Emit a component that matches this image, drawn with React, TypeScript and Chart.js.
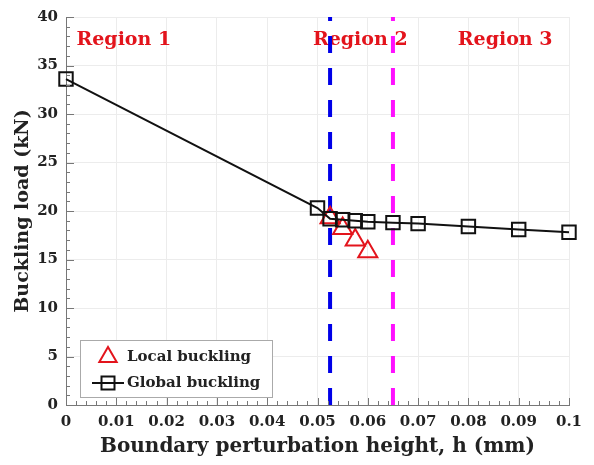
import React, { useEffect, useRef } from 'react';
import { Chart, registerables } from 'chart.js';

Chart.register(...registerables);

// ---- data ----
const globalH = [0, 0.05, 0.0525, 0.055, 0.0575, 0.06, 0.065, 0.07, 0.08, 0.09, 0.1];
const globalLoad = [33.6, 20.3, 19.2, 19.1, 19.0, 18.9, 18.8, 18.7, 18.4, 18.1, 17.8];
const localH = [0.0525, 0.055, 0.0575, 0.06];
const localLoad = [19.3, 18.2, 17.0, 15.8];
const boundaryH = [0.0525, 0.065];
const boundaryColors = ['#0000e8', '#ff10ff'];
const regionNames = ['Region 1', 'Region 2', 'Region 3'];
const regionCenters = [0.0115, 0.0585, 0.0873];
const regionLoad = 37.6;
const xTickValues = [0, 0.01, 0.02, 0.03, 0.04, 0.05, 0.06, 0.07, 0.08, 0.09, 0.1];
const xTickLabels = ['0', '0.01', '0.02', '0.03', '0.04', '0.05', '0.06', '0.07', '0.08', '0.09', '0.1'];
const yTickValues = [0, 5, 10, 15, 20, 25, 30, 35, 40];
const seriesNames = ['Local buckling', 'Global buckling'];
const xTitle = 'Boundary perturbation height, h (mm)';
const yTitle = 'Buckling load (kN)';

const FONT = "'DejaVu Serif', serif";
const RED = '#e3141c';
const TEXT = '#222222';

const minorTicks = {
  id: 'minorTicks',
  afterDatasetsDraw(chart: any) {
    const { ctx, chartArea: a, scales } = chart;
    const x = scales.x, y = scales.y;
    ctx.save();
    ctx.strokeStyle = '#777';
    ctx.lineWidth = 1;
    ctx.beginPath();
    for (let i = 0; i <= 50; i++) {
      const px = Math.round(x.getPixelForValue(i * 0.002)) + 0.5;
      const len = i % 5 === 0 ? 7 : 4;
      ctx.moveTo(px, a.bottom);
      ctx.lineTo(px, a.bottom - len);
    }
    for (let i = 0; i <= 40; i++) {
      const py = Math.round(y.getPixelForValue(i)) + 0.5;
      const len = i % 5 === 0 ? 8 : 4;
      ctx.moveTo(a.left, py);
      ctx.lineTo(a.left + len, py);
    }
    ctx.stroke();
    ctx.restore();
  },
};

const regionLabels = {
  id: 'regionLabels',
  beforeDatasetsDraw(chart: any) {
    const { ctx, scales } = chart;
    ctx.save();
    ctx.fillStyle = RED;
    ctx.font = `bold 19px ${FONT}`;
    ctx.textAlign = 'center';
    ctx.textBaseline = 'middle';
    regionNames.forEach((name, i) => {
      ctx.fillText(name, scales.x.getPixelForValue(regionCenters[i]), scales.y.getPixelForValue(regionLoad));
    });
    ctx.restore();
  },
};

const xTitlePlugin = {
  id: 'xTitlePlugin',
  afterDraw(chart: any) {
    const { ctx, chartArea: a } = chart;
    ctx.save();
    ctx.fillStyle = TEXT;
    ctx.font = `bold 20px ${FONT}`;
    ctx.textAlign = 'center';
    ctx.textBaseline = 'middle';
    ctx.fillText(xTitle, (a.left + a.right) / 2, a.bottom + 42);
    ctx.restore();
  },
};

const customLegend = {
  id: 'customLegend',
  afterDraw(chart: any) {
    const { ctx, chartArea: a } = chart;
    const left = a.left + 14;
    const top = a.bottom - 65;
    const w = 192;
    const h = 57;
    ctx.save();
    ctx.fillStyle = '#ffffff';
    ctx.fillRect(left, top, w, h);
    ctx.strokeStyle = '#aaaaaa';
    ctx.lineWidth = 1;
    ctx.strokeRect(left + 0.5, top + 0.5, w, h);

    const mx = left + 28;
    const r1 = top + 17;
    const r2 = top + 43;
    ctx.strokeStyle = RED;
    ctx.lineWidth = 2;
    const tr = 10;
    ctx.beginPath();
    ctx.moveTo(mx, r1 - tr);
    ctx.lineTo(mx + tr * 0.866, r1 + tr * 0.5);
    ctx.lineTo(mx - tr * 0.866, r1 + tr * 0.5);
    ctx.closePath();
    ctx.stroke();
    ctx.strokeStyle = '#111';
    ctx.beginPath();
    ctx.moveTo(mx - 16, r2);
    ctx.lineTo(mx + 16, r2);
    ctx.stroke();
    ctx.strokeRect(mx - 6.5, r2 - 6.5, 13, 13);

    ctx.fillStyle = TEXT;
    ctx.font = `bold 15px ${FONT}`;
    ctx.textAlign = 'left';
    ctx.textBaseline = 'middle';
    ctx.fillText(seriesNames[0], left + 47, r1);
    ctx.fillText(seriesNames[1], left + 47, r2);
    ctx.restore();
  },
};

export default function App() {
  const ref = useRef<HTMLCanvasElement | null>(null);

  useEffect(() => {
    if (!ref.current) return;
    const boundarySets = boundaryH.map((hv, i) => ({
      label: 'boundary' + i,
      data: [{ x: hv, y: 0 }, { x: hv, y: 40 }],
      showLine: true,
      borderColor: boundaryColors[i],
      borderWidth: 4,
      borderDash: [17, 15],
      pointRadius: 0,
      order: 10,
    }));
    const chart = new Chart(ref.current, {
      type: 'scatter',
      data: {
        datasets: [
          {
            label: seriesNames[1],
            data: globalH.map((hv, i) => ({ x: hv, y: globalLoad[i] })),
            showLine: true,
            borderColor: '#111',
            borderWidth: 2,
            pointStyle: 'rect',
            pointRadius: 9.5,
            pointBorderWidth: 2,
            pointBorderColor: '#111',
            pointBackgroundColor: 'rgba(255,255,255,0)',
            clip: false,
            order: 1,
          },
          {
            label: seriesNames[0],
            data: localH.map((hv, i) => ({ x: hv, y: localLoad[i] })),
            showLine: false,
            borderColor: RED,
            pointStyle: 'triangle',
            pointRadius: 11,
            pointBorderWidth: 2,
            pointBorderColor: RED,
            pointBackgroundColor: 'rgba(255,255,255,0)',
            clip: false,
            order: 2,
          },
          ...boundarySets,
        ] as any,
      },
      options: {
        animation: false,
        responsive: false,
        events: [],
        layout: { padding: { left: 8, right: 25, top: 16, bottom: 0 } },
        plugins: { legend: { display: false }, tooltip: { enabled: false } },
        scales: {
          x: {
            type: 'linear',
            min: 0,
            max: 0.1,
            afterBuildTicks: (s: any) => {
              s.ticks = xTickValues.map((v) => ({ value: v }));
            },
            afterFit: (s: any) => {
              s.height = 60;
            },
            grid: { color: '#ececec', drawTicks: false },
            border: { display: true, color: '#777', width: 1 },
            ticks: {
              color: TEXT,
              padding: 8,
              maxRotation: 0,
              autoSkip: false,
              font: { family: FONT, size: 15, weight: 'bold' },
              callback: (_v: any, i: number) => xTickLabels[i],
            },
            title: { display: false },
          },
          y: {
            type: 'linear',
            min: 0,
            max: 40,
            afterBuildTicks: (s: any) => {
              s.ticks = yTickValues.map((v) => ({ value: v }));
            },
            afterFit: (s: any) => {
              s.width = 58;
            },
            grid: { color: '#ececec', drawTicks: false },
            border: { display: true, color: '#777', width: 1 },
            ticks: {
              color: TEXT,
              padding: 8,
              autoSkip: false,
              font: { family: FONT, size: 15, weight: 'bold' },
            },
            title: {
              display: true,
              text: yTitle,
              color: TEXT,
              font: { family: FONT, size: 19, weight: 'bold' },
              padding: { top: 4, bottom: 0 },
            },
          },
        },
      } as any,
      plugins: [minorTicks, regionLabels, customLegend, xTitlePlugin],
    });
    return () => chart.destroy();
  }, []);

  return (
    <div style={{ position: 'absolute', left: 0, top: 0, width: 594, height: 465, background: '#fff' }}>
      <canvas ref={ref} width={594} height={465} style={{ display: 'block' }} />
    </div>
  );
}
